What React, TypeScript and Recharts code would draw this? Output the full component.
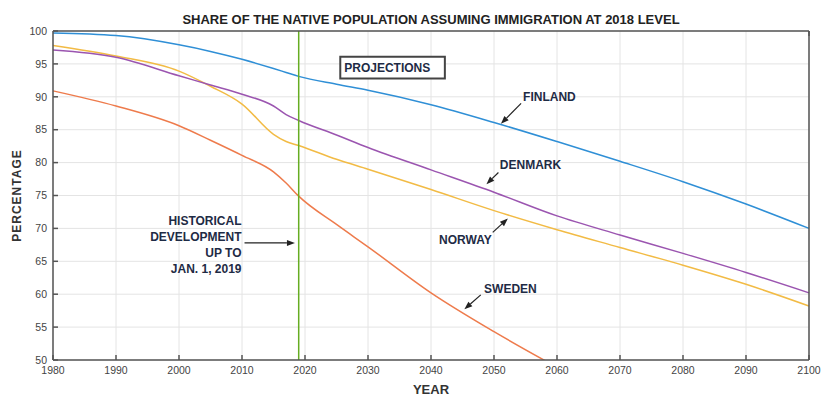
import React from "react";
import { LineChart, Line, XAxis, YAxis, CartesianGrid, ReferenceLine, ReferenceArea } from "recharts";

// readings taken off the reference figure
const years = [1980, 1990, 2000, 2005, 2010, 2015, 2017, 2019, 2025, 2030, 2040, 2050, 2060, 2070, 2080, 2090, 2100];
const finland = [99.7, 99.3, 97.9, 96.9, 95.7, 94.3, 93.7, 93.1, 91.9, 91.0, 88.8, 86.1, 83.2, 80.2, 77.1, 73.7, 70.0];
const denmark = [97.1, 96.0, 93.2, 91.8, 90.4, 88.6, 87.3, 86.4, 84.2, 82.3, 78.9, 75.5, 71.9, 69.0, 66.2, 63.3, 60.2];
const norway = [97.8, 96.2, 93.9, 91.6, 88.9, 84.3, 83.2, 82.6, 80.5, 79.0, 75.9, 72.7, 69.8, 67.1, 64.4, 61.5, 58.2];
const sweden = [90.9, 88.6, 85.6, 83.4, 81.1, 78.6, 76.9, 74.9, 70.6, 67.2, 60.2, 54.3, 48.9, null, null, null, null];

const xTicks = [1980, 1990, 2000, 2010, 2020, 2030, 2040, 2050, 2060, 2070, 2080, 2090, 2100];
const yTicks = [50, 55, 60, 65, 70, 75, 80, 85, 90, 95, 100];

const data = years.map((year, i) => ({
  year,
  finland: finland[i],
  denmark: denmark[i],
  norway: norway[i],
  sweden: sweden[i],
}));

const FONT = "'Liberation Sans', Arial, sans-serif";
const INK = "#1e2b45";
const AXIS = "#555";
const TICK_LEN = 5;
const X_MARGIN = 7;
const Y_MARGIN = 6;

// inward ticks, matlab style
const BottomTick = ({ x, y, payload }: any) => (
  <g>
    <line x1={x} x2={x} y1={y - X_MARGIN} y2={y - X_MARGIN - TICK_LEN} stroke={AXIS} strokeWidth={1.5} />
    <text x={x} y={y} dy="0.71em" textAnchor="middle" fontFamily={FONT} fontSize={10.5} fill="#444">
      {payload.value}
    </text>
  </g>
);

const LeftTick = ({ x, y, payload }: any) => (
  <g>
    <line x1={x + Y_MARGIN} x2={x + Y_MARGIN + TICK_LEN} y1={y} y2={y} stroke={AXIS} strokeWidth={1.5} />
    <text x={x} y={y} dy="0.355em" textAnchor="end" fontFamily={FONT} fontSize={10.5} fill="#444">
      {payload.value}
    </text>
  </g>
);

const TopTick = ({ x, y }: any) => (
  <line x1={x} x2={x} y1={y} y2={y + TICK_LEN} stroke={AXIS} strokeWidth={1.5} />
);

const RightTick = ({ x, y }: any) => (
  <line x1={x} x2={x - TICK_LEN} y1={y} y2={y} stroke={AXIS} strokeWidth={1.5} />
);

// arrow drawn from segment start to end, text placed relative to the start
function arrowShape(lines: string[], dx: number, dy: number, anchor: "start" | "end") {
  return (props: any) => {
    const { x1, y1, x2, y2 } = props;
    const a = Math.atan2(y2 - y1, x2 - x1);
    const len = 8;
    const w = 3;
    const bx = x2 - len * Math.cos(a);
    const by = y2 - len * Math.sin(a);
    const px = -Math.sin(a) * w;
    const py = Math.cos(a) * w;
    return (
      <g>
        <line x1={x1} y1={y1} x2={bx} y2={by} stroke="#222" strokeWidth={1.2} />
        <polygon points={`${x2},${y2} ${bx + px},${by + py} ${bx - px},${by - py}`} fill="#222" />
        {lines.map((t, i) => (
          <text
            key={t}
            x={x1 + dx}
            y={y1 + dy + i * 16}
            textAnchor={anchor}
            fontFamily={FONT}
            fontWeight="bold"
            fontSize={12}
            fill={INK}
          >
            {t}
          </text>
        ))}
      </g>
    );
  };
}

export default function App() {
  return (
    <div style={{ position: "absolute", left: 0, top: 0, width: 825, height: 403, background: "#fff" }}>
      <LineChart width={825} height={403} data={data} margin={{ top: 30, right: 15, bottom: 23, left: 8 }}>
        <CartesianGrid stroke="#e4e4e4" strokeWidth={1} />
        <XAxis
          dataKey="year"
          type="number"
          domain={[1980, 2100]}
          ticks={xTicks}
          height={20}
          tickSize={0}
          tickMargin={X_MARGIN}
          tickLine={false}
          tick={<BottomTick />}
          stroke={AXIS}
          strokeWidth={1.5}
          label={{
            content: ({ viewBox }: any) => (
              <text
                x={viewBox.x + viewBox.width / 2}
                y={viewBox.y + 34}
                textAnchor="middle"
                fontFamily={FONT}
                fontWeight="bold"
                fontSize={13}
                fill="#333"
              >
                YEAR
              </text>
            ),
          }}
        />
        <XAxis
          xAxisId="top"
          orientation="top"
          type="number"
          domain={[1980, 2100]}
          ticks={xTicks}
          height={1}
          tickSize={0}
          tickMargin={0}
          tickLine={false}
          tick={<TopTick />}
          stroke={AXIS}
          strokeWidth={1.5}
        />
        <YAxis
          type="number"
          domain={[50, 100]}
          ticks={yTicks}
          width={45}
          allowDataOverflow
          tickSize={0}
          tickMargin={Y_MARGIN}
          tickLine={false}
          tick={<LeftTick />}
          stroke={AXIS}
          strokeWidth={1.5}
          label={{
            content: ({ viewBox }: any) => {
              const cx = viewBox.x + 9;
              const cy = viewBox.y + viewBox.height / 2;
              return (
                <text
                  x={cx}
                  y={cy}
                  transform={`rotate(-90 ${cx} ${cy})`}
                  textAnchor="middle"
                  dominantBaseline="central"
                  fontFamily={FONT}
                  fontWeight="bold"
                  fontSize={12}
                  letterSpacing={1}
                  fill="#333"
                >
                  PERCENTAGE
                </text>
              );
            },
          }}
        />
        <YAxis
          yAxisId="right"
          orientation="right"
          type="number"
          domain={[50, 100]}
          ticks={yTicks}
          width={1}
          tickSize={0}
          tickMargin={0}
          tickLine={false}
          tick={<RightTick />}
          stroke={AXIS}
          strokeWidth={1.5}
        />

        <ReferenceArea
          x1={2025.6}
          x2={2042.2}
          y1={92.8}
          y2={96.1}
          fill="#fff"
          fillOpacity={1}
          stroke="#444"
          strokeWidth={2}
          label={{
            value: "PROJECTIONS",
            position: "insideLeft",
            offset: 4,
            fontFamily: FONT,
            fontWeight: "bold",
            fontSize: 12,
            fill: INK,
          }}
        />

        <Line dataKey="finland" stroke="#2f8fd6" strokeWidth={1.5} dot={false} type="monotone" isAnimationActive={false} />
        <Line dataKey="sweden" stroke="#ee7b4c" strokeWidth={1.5} dot={false} type="monotone" isAnimationActive={false} />
        <Line dataKey="norway" stroke="#f2bb45" strokeWidth={1.5} dot={false} type="monotone" isAnimationActive={false} />
        <Line dataKey="denmark" stroke="#9b55b0" strokeWidth={1.5} dot={false} type="monotone" isAnimationActive={false} />

        <ReferenceLine x={2019} stroke="#66ad22" strokeWidth={1.5} />

        <ReferenceLine
          segment={[{ x: 2054.3, y: 89.0 }, { x: 2051.1, y: 85.9 }]}
          shape={arrowShape(["FINLAND"], 2, -2.7, "start")}
        />
        <ReferenceLine
          segment={[{ x: 2050.7, y: 78.5 }, { x: 2048.8, y: 76.7 }]}
          shape={arrowShape(["DENMARK"], 1.4, -3, "start")}
        />
        <ReferenceLine
          segment={[{ x: 2049.8, y: 69.4 }, { x: 2052.2, y: 71.5 }]}
          shape={arrowShape(["NORWAY"], -1, 11.7, "end")}
        />
        <ReferenceLine
          segment={[{ x: 2047.9, y: 59.9 }, { x: 2045.3, y: 57.7 }]}
          shape={arrowShape(["SWEDEN"], 3.3, -2, "start")}
        />
        <ReferenceLine
          segment={[{ x: 2010.4, y: 67.8 }, { x: 2018.4, y: 67.8 }]}
          shape={arrowShape(["HISTORICAL", "DEVELOPMENT", "UP TO", "JAN. 1, 2019"], -3, -18.3, "end")}
        />

        <text
          x={431}
          y={24}
          textAnchor="middle"
          fontFamily={FONT}
          fontWeight="bold"
          fontSize={13}
          fill="#222"
        >
          SHARE OF THE NATIVE POPULATION ASSUMING IMMIGRATION AT 2018 LEVEL
        </text>
      </LineChart>
    </div>
  );
}
